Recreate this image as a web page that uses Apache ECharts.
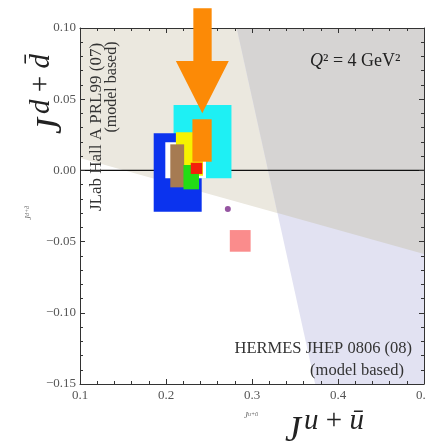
<!DOCTYPE html>
<html>
<head>
<meta charset="utf-8">
<script src="https://cdn.jsdelivr.net/npm/echarts@6/dist/echarts.min.js"></script>
<style>
  html, body { margin: 0; padding: 0; background: #fff; }
  #chart { width: 425px; height: 448px; }
</style>
</head>
<body>
<div id="chart"></div>
<script>
// axis ranges (J^{u+ubar} horizontally, J^{d+dbar} vertically)
const xRange = [0.1, 0.5];
const yRange = [-0.15, 0.1];

// model based constraint bands, edge lines
const jlabEdge = [[0.1, 0.0087], [0.5, -0.0587]];
const hermesEdge = [[0.2822, 0.1], [0.3734, -0.15]];

// error boxes, in drawing order
const boxNames = ["cyan", "blue", "white", "yellow", "orange", "brown", "green", "red", "pink"];
const boxXMin = [0.2088, 0.1857, 0.1992, 0.2115, 0.2307, 0.205, 0.2203, 0.2288, 0.2742];
const boxXMax = [0.2761, 0.2415, 0.2465, 0.243, 0.2531, 0.2211, 0.2384, 0.2422, 0.2984];
const boxYMin = [-0.0056, -0.029, -0.0056, -0.0037, 0.0061, -0.0119, -0.0133, -0.0025, -0.0571];
const boxYMax = [0.0459, 0.0261, 0.0197, 0.0268, 0.0359, 0.0183, 0.0038, 0.0054, -0.0419];

// single point
const dotPoint = [[0.2719, -0.0271]];

// big arrow outline
const arrowPoints = [
  [0.2318, 0.1138], [0.2531, 0.1138], [0.2531, 0.0768], [0.273, 0.0768],
  [0.2422, 0.0401], [0.2115, 0.0768], [0.2318, 0.0768],
];

const boxColors = {
  cyan: "#1ef0f4", blue: "#0b33ee", white: "#ffffff", yellow: "#f6f300",
  orange: "#fc8a06", brown: "#a67b52", green: "#22dd14", red: "#f4200c", pink: "#fa8c8c",
};

function intersect(a, b) {
  const [[x1, y1], [x2, y2]] = a;
  const [[x3, y3], [x4, y4]] = b;
  const d = (x1 - x2) * (y3 - y4) - (y1 - y2) * (x3 - x4);
  const t = ((x1 - x3) * (y3 - y4) - (y1 - y3) * (x3 - x4)) / d;
  return [x1 + t * (x2 - x1), y1 + t * (y2 - y1)];
}

const cross = intersect(jlabEdge, hermesEdge);
const jlabArea = [jlabEdge[0], jlabEdge[1], [xRange[1], yRange[1]], [xRange[0], yRange[1]]];
const hermesArea = [hermesEdge[0], hermesEdge[1], [xRange[1], yRange[0]], [xRange[1], yRange[1]]];
const bothArea = [hermesEdge[0], cross, jlabEdge[1], [xRange[1], yRange[1]]];

function areaSeries(points, color, z) {
  return {
    type: "custom",
    z: z,
    silent: true,
    clip: false,
    data: [[0.3, 0]],
    renderItem: (params, api) => ({
      type: "polygon",
      shape: { points: points.map((p) => api.coord(p)) },
      style: { fill: color },
    }),
  };
}

const serif = "Liberation Serif";
const frameColor = "#333";

function frameAxis(extra) {
  return Object.assign(
    {
      type: "value",
      z: 5,
      axisLine: { show: true, onZero: false, lineStyle: { color: frameColor, width: 1 } },
      axisTick: { show: true, inside: true, length: 5, lineStyle: { color: frameColor } },
      minorTick: { show: true, splitNumber: 5, length: 3, lineStyle: { color: frameColor } },
      splitLine: { show: false },
      minorSplitLine: { show: false },
    },
    extra
  );
}

const labelStyle = { fontFamily: serif, fontSize: 13, color: "#555" };

const chart = echarts.init(document.getElementById("chart"));
chart.setOption({
  animation: false,
  grid: { left: 80, top: 28, right: 1, bottom: 64, containLabel: false, outerBoundsMode: "none" },
  xAxis: [
    frameAxis({
      position: "bottom",
      min: xRange[0], max: xRange[1], interval: 0.1,
      axisLabel: Object.assign({ margin: 5, formatter: (v) => v.toFixed(1) }, labelStyle),
    }),
    frameAxis({
      position: "top",
      min: xRange[0], max: xRange[1], interval: 0.1,
      axisLabel: { show: false },
    }),
  ],
  yAxis: [
    frameAxis({
      position: "left",
      min: yRange[0], max: yRange[1], interval: 0.05,
      axisLabel: Object.assign(
        { margin: 4, formatter: (v) => (v < -1e-9 ? "\u2212" : "") + Math.abs(v).toFixed(2) },
        labelStyle
      ),
    }),
    frameAxis({
      position: "right",
      min: yRange[0], max: yRange[1], interval: 0.05,
      axisLabel: { show: false },
    }),
  ],
  series: [
    areaSeries(jlabArea, "#ebe8df", 1),
    areaSeries(hermesArea, "#e2e2f2", 1),
    areaSeries(bothArea, "#d6d4d3", 1),
    {
      type: "line",
      z: 2,
      silent: true,
      symbol: "none",
      data: [[xRange[0], 0], [xRange[1], 0]],
      lineStyle: { color: "#111", width: 1.2 },
    },
    {
      type: "custom",
      z: 3,
      silent: true,
      data: boxNames.map((n, i) => ({
        value: [boxXMin[i], boxXMax[i], boxYMin[i], boxYMax[i]],
        itemStyle: { color: boxColors[n] },
      })),
      encode: { x: [0, 1], y: [2, 3] },
      renderItem: (params, api) => {
        const a = api.coord([api.value(0), api.value(3)]);
        const b = api.coord([api.value(1), api.value(2)]);
        return {
          type: "rect",
          shape: { x: a[0], y: a[1], width: b[0] - a[0], height: b[1] - a[1] },
          style: { fill: api.visual("color") },
        };
      },
    },
    {
      type: "scatter",
      z: 4,
      silent: true,
      symbolSize: 6,
      data: dotPoint,
      itemStyle: { color: "#7a2a8a" },
    },
    areaSeries(arrowPoints, "#fc8a06", 10),
  ],
  graphic: [
    // vertical band label (JLab)
    {
      type: "text", x: 97, y: 127, rotation: Math.PI / 2, z: 20,
      style: { text: "JLab Hall A PRL99 (07)", fontFamily: serif, fontSize: 17,
        fill: "#333", align: "center", verticalAlign: "middle" },
    },
    {
      type: "text", x: 112, y: 87, rotation: Math.PI / 2, z: 20,
      style: { text: "(model based)", fontFamily: serif, fontSize: 16,
        fill: "#333", align: "center", verticalAlign: "middle" },
    },
    // HERMES band label
    {
      type: "text", x: 412, y: 349, z: 20,
      style: { text: "HERMES JHEP 0806 (08)", fontFamily: serif, fontSize: 16.5,
        fill: "#333", align: "right", verticalAlign: "middle" },
    },
    {
      type: "text", x: 404, y: 371, z: 20,
      style: { text: "(model based)", fontFamily: serif, fontSize: 16.5,
        fill: "#333", align: "right", verticalAlign: "middle" },
    },
    // scale
    {
      type: "text", x: 310, y: 61, z: 20,
      style: {
        text: "{q|Q}{r|\u00b2 = 4 GeV\u00b2}",
        align: "left", verticalAlign: "middle",
        rich: {
          q: { fontFamily: serif, fontSize: 18, fontStyle: "italic", fill: "#222" },
          r: { fontFamily: serif, fontSize: 18, fill: "#222" },
        },
      },
    },
    // big axis names
    {
      type: "text", x: 52, y: 126, rotation: Math.PI / 2, z: 20,
      style: { text: "J", fontFamily: serif, fontSize: 36, fontStyle: "italic",
        fill: "#222", align: "center", verticalAlign: "middle" },
    },
    {
      type: "text", x: 41, y: 84, rotation: Math.PI / 2, z: 20,
      style: {
        text: "{i|d}{n| + }{i|d\u0304}", align: "center", verticalAlign: "middle",
        rich: {
          i: { fontFamily: serif, fontSize: 29, fontStyle: "italic", fill: "#222" },
          n: { fontFamily: serif, fontSize: 29, fill: "#222" },
        },
      },
    },
    {
      type: "text", x: 293, y: 432, z: 20,
      style: { text: "J", fontFamily: serif, fontSize: 36, fontStyle: "italic",
        fill: "#222", align: "center", verticalAlign: "middle" },
    },
    {
      type: "text", x: 334, y: 421, z: 20,
      style: {
        text: "{i|u}{n| + }{i|\u016b}", align: "center", verticalAlign: "middle",
        rich: {
          i: { fontFamily: serif, fontSize: 29, fontStyle: "italic", fill: "#222" },
          n: { fontFamily: serif, fontSize: 29, fill: "#222" },
        },
      },
    },
    // small axis names
    {
      type: "text", x: 29, y: 213, rotation: Math.PI / 2, z: 20,
      style: {
        text: "{j|J}{s|d+d\u0304}", align: "center", verticalAlign: "middle",
        rich: {
          j: { fontFamily: serif, fontSize: 9, fontStyle: "italic", fill: "#666" },
          s: { fontFamily: serif, fontSize: 6, fontStyle: "italic", fill: "#666", verticalAlign: "top" },
        },
      },
    },
    {
      type: "text", x: 251, y: 416, z: 20,
      style: {
        text: "{j|J}{s|u+\u016b}", align: "center", verticalAlign: "middle",
        rich: {
          j: { fontFamily: serif, fontSize: 9, fontStyle: "italic", fill: "#666" },
          s: { fontFamily: serif, fontSize: 6, fontStyle: "italic", fill: "#666", verticalAlign: "top" },
        },
      },
    },
  ],
});
</script>
</body>
</html>
